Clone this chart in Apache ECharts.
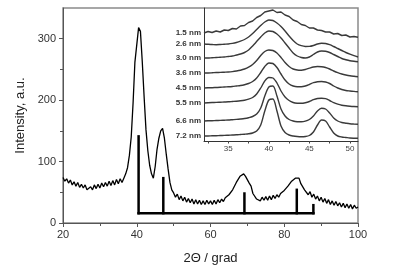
<!DOCTYPE html>
<html><head><meta charset="utf-8">
<script src="https://cdn.jsdelivr.net/npm/echarts@6/dist/echarts.min.js"></script>
<style>html,body{margin:0;padding:0;background:#fff}#c{width:410px;height:270px}</style>
</head><body><div id="c"></div>
<script>
// ---- main XRD pattern (2Θ, intensity) ----
const mainPattern = [
[20,74],[20.5,68],[21,72],[21.5,65],[22,70],[22.5,62],[23,67],[23.5,60],[24,66],[24.5,58],
[25,63],[25.5,57],[26,62],[26.5,54],[27,51],[27.5,59],[28,54],[28.5,62],[29,56],[29.5,63],
[30,57],[30.5,65],[31,59],[31.5,66],[32,60],[32.5,68],[33,61],[33.5,69],[34,62],[34.5,71],
[35,64],[35.5,72],[36,66],[36.5,73],[37,80],[37.5,90],[38,110],[38.5,140],[39,195],[39.5,262],
[40,290],[40.5,318],[41,312],[41.5,262],[42,205],[42.5,152],[43,118],[43.5,94],[44,80],[44.5,73],
[45,92],[45.5,120],[46,138],[46.5,150],[47,154],[47.5,138],[48,112],[48.5,88],[49,66],[49.5,54],
[50,49],[50.5,42],[51,47],[51.5,38],[52,44],[52.5,36],[53,42],[53.5,34],[54,40],[54.5,33],
[55,39],[55.5,31],[56,38],[56.5,31],[57,37],[57.5,30],[58,36],[58.5,30],[59,37],[59.5,31],
[60,36],[60.5,30],[61,37],[61.5,31],[62,38],[62.5,33],[63,39],[63.5,35],[64,41],[64.5,39],
[65,46],[65.5,45],[66,54],[66.5,57],[67,66],[67.5,69],[68,76],[68.5,77],[69,80],[69.5,76],
[70,75],[70.5,65],[71,60],[71.5,48],[72,45],[72.5,39],[73,42],[73.5,36],[74,42],[74.5,37],
[75,43],[75.5,37],[76,44],[76.5,38],[77,45],[77.5,40],[78,46],[78.5,42],[79,48],[79.5,47],
[80,53],[80.5,53],[81,60],[81.5,62],[82,68],[82.5,69],[83,73],[83.5,72],[84,73],[84.5,64],
[85,65],[85.5,54],[86,56],[86.5,46],[87,51],[87.5,42],[88,47],[88.5,39],[89,44],[89.5,36],
[90,42],[90.5,34],[91,40],[91.5,32],[92,38],[92.5,30],[93,36],[93.5,29],[94,35],[94.5,28],
[95,33],[95.5,26],[96,32],[96.5,25],[97,31],[97.5,24],[98,30],[98.5,23],[99,29],[99.5,24],[100,26]
];
// ---- reference stick pattern ----
const stickPos = [40.5, 47.2, 69.2, 83.4, 87.9];
const stickHeight = [141, 73, 48, 54, 29];
const stickBase = 16;
// ---- axis ticks ----
const mainXTicks = [20, 40, 60, 80, 100];
const mainYTicks = [0, 100, 200, 300];
const insetXLabels = [35, 40, 45, 50];
const insetXMinor = [32.5, 35, 37.5, 40, 42.5, 45, 47.5, 50];
// ---- inset: stacked patterns vs particle size ----
const insetTheta = [32,32.5,33,33.5,34,34.5,35,35.5,36,36.5,37,37.5,38,38.5,39,39.5,40,40.5,41,41.5,42,42.5,43,43.5,44,44.5,45,45.5,46,46.5,47,47.5,48,48.5,49,49.5,50,50.5,51];
const sizeLabels = ["1.5 nm","2.6 nm","3.0 nm","3.6 nm","4.5 nm","5.5 nm","6.6 nm","7.2 nm"];
const curve15 = [108,109.5,108.5,110,109,111,110.5,112.5,112,115,115.5,118.5,120,123.5,125.5,129,130,131,128.5,129,126,124.5,121,119.5,116.5,115.5,113,113,111,110.5,109,109,107,107.5,105.5,106,104,104.5,103.7];
const curve26 = [97,96.7,96.5,96.3,96.5,96.8,97,97.6,98.5,99.8,101.5,104,107.5,111.5,115.5,119,121,120.5,118,114.5,110,105,100.5,97,95.3,94.5,94.6,95.5,97,97.8,97.5,96.3,94.5,92.5,90.5,88.5,86.8,85.3,84];
const curve30 = [83,83,83.3,83.5,83.8,84,84.5,85,86,87,88.5,91,95,99.5,104,108,110,109.5,107,103,98,93,88,85,83.5,83,84,86.5,89,90,89.7,88.5,86.5,84.5,82.5,81.3,80.3,79.7,79.3];
const curve36 = [68,68,68.2,68.5,68.6,68.8,69,69.4,70,70.8,72,73.8,76.5,80.5,85.5,89.5,91,90.5,88,83.5,78.5,74.5,72,71,70.8,71.5,72.8,74,74.5,74.3,73.5,72,70,68.3,67,66,65.2,64.7,64.3];
const curve45 = [53,53.2,53.3,53.5,53.7,54,54.2,54.5,55,55.5,56.3,57.5,59.5,63,68.5,74.5,78,77.5,73.5,67,61,57,55,54.3,54.3,55,56.5,58.3,59.3,59.5,59,57.5,55,53,51.5,50.5,50,49.6,49.3];
const curve55 = [38,38.3,38.5,38.6,38.8,39,39.2,39.5,39.8,40.2,40.8,41.8,43.5,47,53,60,63.5,63,58,50,44,40.5,38.5,37.8,37.7,38.3,39.5,41.3,42.5,42.8,42.3,40.5,38.3,36.8,35.8,35.2,34.8,34.5,34.3];
const curve66 = [20,20.2,20.3,20.5,20.6,20.8,21,21.3,21.6,22,22.5,23.3,24.5,27,33,45,54,55,45,32,25,21.5,20,19.3,19.2,19.8,21.5,25,30,32.7,32,28,23,20,18.5,17.8,17.2,16.9,16.7];
const curve72 = [5,5,5.2,5.3,5.5,5.6,5.8,6,6.2,6.5,6.8,7.2,8,10,16,30,41,42,30,15,8.5,6,5,4.5,4.3,4.5,5.5,9,16,21,20,14,8,5,4,3.5,3,2.8,2.7];
const insetCurves = [curve15, curve26, curve30, curve36, curve45, curve55, curve66, curve72];

const FONT = 'Liberation Sans, Arial, sans-serif';
const chart = echarts.init(document.getElementById('c'), null, {renderer: 'canvas'});
const startValues = insetCurves.map(c => c[0]);

const insetSeries = insetCurves.map((c, i) => ({
  type: 'line', xAxisIndex: 1, yAxisIndex: 1, name: sizeLabels[i],
  data: c.map((v, k) => [insetTheta[k], v]),
  showSymbol: false, symbol: 'none', smooth: i === 0 ? false : 0.3,
  lineStyle: {color: '#3a3a3a', width: 1.4}, silent: true, animation: false
}));

chart.setOption({
  animation: false,
  grid: [
    {left: 63, right: 52, top: 8, bottom: 43, show: true, borderColor: '#8a8a8a', borderWidth: 1.5, backgroundColor: 'transparent'},
    {left: 204, right: 52, top: 8, bottom: 129, show: false}
  ],
  xAxis: [
    {type: 'value', gridIndex: 0, min: 20, max: 100, interval: 20,
     name: '2\u0398 / grad', nameLocation: 'middle', nameGap: 29,
     nameTextStyle: {fontFamily: FONT, fontSize: 13, color: '#222'},
     axisLine: {lineStyle: {color: '#555', width: 1}},
     axisTick: {length: 4, lineStyle: {color: '#555'}},
     minorTick: {show: true, splitNumber: 2, length: 3, lineStyle: {color: '#555'}},
     axisLabel: {fontFamily: FONT, fontSize: 11, color: '#333', margin: 6,
       customValues: mainXTicks},
     splitLine: {show: false}},
    {type: 'value', gridIndex: 1, min: 32, max: 51,
     axisLine: {show: true, onZero: false, lineStyle: {color: '#333', width: 1}},
     axisTick: {show: true, length: 2.5, customValues: insetXMinor, lineStyle: {color: '#444'}},
     axisLabel: {fontFamily: FONT, fontSize: 8, color: '#444', margin: 4, customValues: insetXLabels},
     splitLine: {show: false}}
  ],
  yAxis: [
    {type: 'value', gridIndex: 0, min: 0, max: 350,
     name: 'Intensity, a.u.', nameLocation: 'middle', nameGap: 35,
     nameTextStyle: {fontFamily: FONT, fontSize: 13, color: '#222'},
     axisLine: {show: true, lineStyle: {color: '#555', width: 1}},
     axisTick: {length: 4, customValues: mainYTicks, lineStyle: {color: '#555'}},
     minorTick: {show: true, splitNumber: 2, length: 3, lineStyle: {color: '#555'}},
     axisLabel: {fontFamily: FONT, fontSize: 11, color: '#333', margin: 7, customValues: mainYTicks},
     splitLine: {show: false}},
    {type: 'value', gridIndex: 1, min: 0, max: 133,
     axisLine: {show: true, onZero: false, lineStyle: {color: '#333', width: 1}},
     axisTick: {show: false},
     axisLabel: {show: true, customValues: startValues, margin: 3,
       fontFamily: FONT, fontSize: 8, fontWeight: 'bold', color: '#333',
       formatter: v => { const i = startValues.indexOf(v); return i >= 0 ? sizeLabels[i] : ''; }},
     splitLine: {show: false}}
  ],
  series: [
    {type: 'line', xAxisIndex: 0, yAxisIndex: 0, data: mainPattern,
     showSymbol: false, symbol: 'none', lineStyle: {color: '#000', width: 1.3}, silent: true},
    {type: 'line', xAxisIndex: 0, yAxisIndex: 0,
     data: [[stickPos[0], stickBase], [stickPos[stickPos.length - 1], stickBase]],
     showSymbol: false, symbol: 'none', lineStyle: {color: '#000', width: 2.5, cap: 'square'}, silent: true},
    {type: 'custom', xAxisIndex: 0, yAxisIndex: 0,
     data: stickPos.map((p, i) => [p, stickHeight[i]]),
     renderItem: (params, api) => {
       const a = api.coord([api.value(0), stickBase]);
       const b = api.coord([api.value(0), api.value(1)]);
       return {type: 'line', shape: {x1: a[0], y1: a[1], x2: b[0], y2: b[1]},
               style: {stroke: '#000', lineWidth: 2.5, lineCap: 'square'}};
     }, silent: true},
    ...insetSeries
  ]
});
</script></body></html>
